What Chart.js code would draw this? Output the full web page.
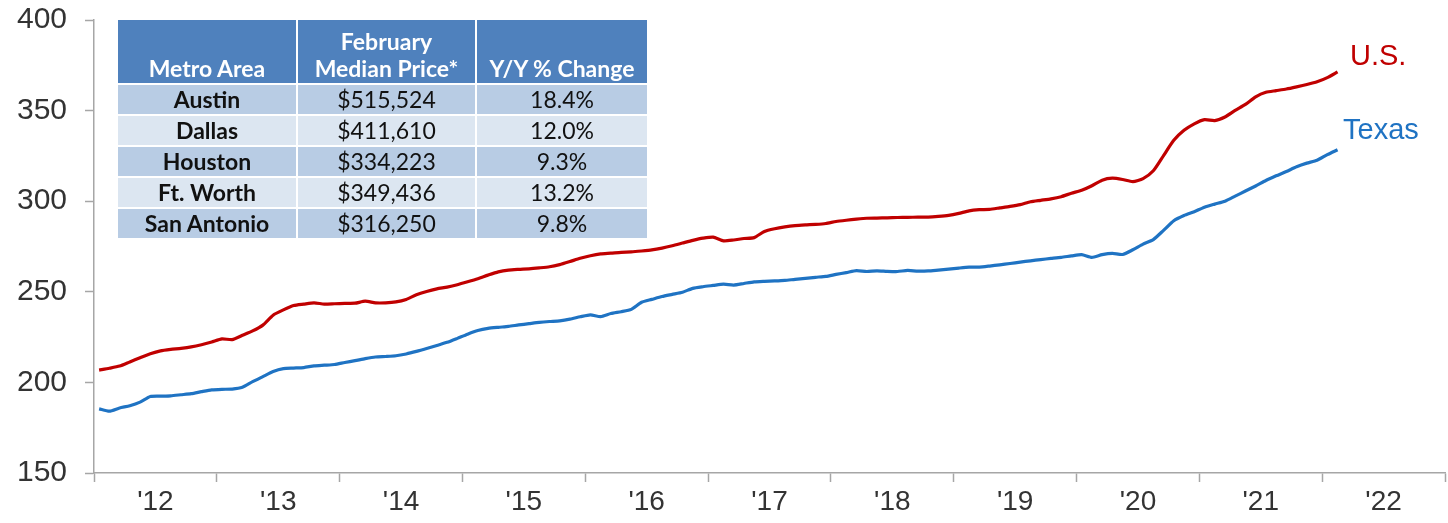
<!DOCTYPE html>
<html>
<head>
<meta charset="utf-8">
<script src="https://cdn.jsdelivr.net/npm/chart.js@4.4.1/dist/chart.umd.min.js"></script>
<style>
  body { margin: 0; background: #fff; }
  .wrap { position: relative; width: 1448px; height: 523px; }
  canvas { position: absolute; left: 0; top: 0; }

  /* metro price table overlay */
  .metro-table {
    position: absolute; left: 116px; top: 18px; width: 533px;
    border-collapse: collapse; font-family: Lato, "Open Sans", sans-serif;
  }
  .metro-table th, .metro-table td { border: 2px solid #fff; text-align: center; padding: 0; }
  .metro-table th {
    background: #4f81bd; color: #fff; font-weight: bold; font-size: 23px;
    line-height: 27px; height: 62px; vertical-align: bottom; padding-bottom: 1px;
  }
  .metro-table td { font-size: 23px; height: 29px; line-height: 29px; color: #111; }
  .metro-table tbody tr:nth-child(even) td { background: #b8cce4; }
  .metro-table tbody tr:nth-child(odd) td { background: #dce6f1; }
  .metro-table td.city { font-weight: bold; }

  .series-label { position: absolute; font-family: "Liberation Sans", Arial, sans-serif; font-size: 29px; }
</style>
</head>
<body>
<div class="wrap">
  <canvas id="priceChart" width="1448" height="523"></canvas>
  <table class="metro-table" id="metroTable"></table>
  <div class="series-label" id="usLabel" style="left:1350px; top:39px; color:#c00000;">U.S.</div>
  <div class="series-label" id="txLabel" style="left:1343px; top:113px; color:#1f73c3;">Texas</div>
</div>

<script>
// Median home price index, monthly Jan 2012 - Feb 2022
const usValues = [
  206.8, 207.8, 209.0, 211.3, 213.6, 215.8, 217.4, 218.2, 218.8, 219.6, 220.8, 222.3,
  224.0, 223.6, 226.0, 228.4, 231.6, 237.1, 240.0, 242.4, 243.2, 243.9, 243.2, 243.4,
  243.6, 243.7, 244.8, 243.9, 243.9, 244.4, 245.8, 248.4, 250.2, 251.6, 252.6, 253.9,
  255.5, 257.2, 259.2, 261.0, 262.0, 262.4, 262.7, 263.2, 263.8, 265.0, 266.7, 268.5,
  269.9, 270.9, 271.3, 271.8, 272.0, 272.5, 273.1, 274.1, 275.4, 276.9, 278.4, 279.6,
  280.2, 278.1, 278.6, 279.4, 279.9, 283.3, 284.8, 285.8, 286.5, 286.9, 287.2, 287.7,
  288.8, 289.5, 290.1, 290.6, 290.7, 290.8, 291.0, 291.1, 291.2, 291.2, 291.6, 292.2,
  293.3, 294.7, 295.3, 295.5, 296.3, 297.1, 298.1, 299.7, 300.5, 301.3, 302.5, 304.4,
  306.0, 308.5, 311.6, 312.7, 312.0, 310.8, 312.5, 316.8, 325.2, 333.6, 339.1, 342.7,
  345.0, 344.5, 346.5, 350.1, 353.4, 357.6, 360.1, 361.0, 361.9, 363.1, 364.4, 365.9,
  368.2, 371.4
];

const texasValues = [
  185.4, 184.1, 185.9, 187.1, 189.1, 192.2, 192.4, 192.6, 193.2, 193.8, 194.9, 195.9,
  196.2, 196.3, 197.3, 200.4, 203.2, 206.0, 207.6, 207.9, 208.2, 209.1, 209.5, 209.9,
  211.0, 212.0, 213.1, 214.0, 214.3, 214.7, 215.7, 217.1, 218.7, 220.4, 222.1, 224.3,
  226.6, 228.6, 229.8, 230.4, 230.9, 231.7, 232.4, 233.1, 233.6, 234.0, 234.9, 236.2,
  237.3, 236.3, 238.0, 239.0, 240.3, 244.2, 245.8, 247.4, 248.6, 249.8, 251.9, 252.8,
  253.5, 254.2, 253.7, 254.6, 255.5, 255.8, 256.0, 256.3, 256.9, 257.4, 258.0, 258.5,
  259.6, 260.6, 261.7, 261.2, 261.6, 261.3, 261.2, 261.8, 261.4, 261.5, 262.0, 262.5,
  263.1, 263.6, 263.6, 264.2, 264.9, 265.6, 266.4, 267.1, 267.8, 268.4, 269.0, 269.8,
  270.5, 269.0, 270.5, 271.2, 270.6, 273.2, 276.3, 278.8, 283.9, 289.2, 292.1, 294.2,
  296.7, 298.4, 300.0, 302.8, 305.6, 308.4, 311.4, 314.0, 316.4, 319.0, 321.0, 322.6,
  325.7, 328.4
];

// x axis: one label per year, centred in its year
const yearLabels = ["'12", "'13", "'14", "'15", "'16", "'17", "'18", "'19", "'20", "'21", "'22"];
const yTicks = [150, 200, 250, 300, 350, 400];

// Table content
const metroAreas = ['Austin', 'Dallas', 'Houston', 'Ft. Worth', 'San Antonio'];
const medianPrices = ['$515,524', '$411,610', '$334,223', '$349,436', '$316,250'];
const yoyChanges = ['18.4%', '12.0%', '9.3%', '13.2%', '9.8%'];

const RED = '#c00000';
const BLUE = '#1f73c3';
const AXIS = '#a6a6a6';

// Build table (header row is tbody child 1, so Austin lands on an even row)
document.getElementById('metroTable').innerHTML = `
  <tr><th style="width:178px">Metro Area</th><th style="width:177px">February<br>Median Price*</th><th>Y/Y % Change</th></tr>
  ${metroAreas.map((m, i) => `<tr><td class="city">${m}</td><td>${medianPrices[i]}</td><td>${yoyChanges[i]}</td></tr>`).join('')}
`;

// Month index -> centre of that month on a linear scale (0 = start of 2012)
const toPoints = arr => arr.map((v, i) => ({ x: i + 0.5, y: v }));

const ctx = document.getElementById('priceChart').getContext('2d');
new Chart(ctx, {
  type: 'line',
  data: {
    datasets: [
      { label: 'U.S.', data: toPoints(usValues), borderColor: RED, borderWidth: 3.2, pointRadius: 0, tension: 0.2 },
      { label: 'Texas', data: toPoints(texasValues), borderColor: BLUE, borderWidth: 3.2, pointRadius: 0, tension: 0.2 }
    ]
  },
  options: {
    responsive: false,
    animation: false,
    layout: { padding: { top: 20, right: 3, left: 0, bottom: 0 } },
    plugins: { legend: { display: false }, tooltip: { enabled: false } },
    scales: {
      x: {
        type: 'linear',
        min: 0,
        max: yearLabels.length * 12,
        afterBuildTicks: scale => {
          const ticks = [];
          for (let v = 0; v <= yearLabels.length * 12; v += 6) ticks.push({ value: v });
          scale.ticks = ticks;
        },
        afterFit: scale => { scale.height = 50; scale.paddingLeft = 0; scale.paddingRight = 0; },
        grid: {
          drawOnChartArea: false,
          tickLength: 9,
          tickWidth: 1.5,
          tickColor: c => (c.tick && c.tick.value % 12 === 0) ? AXIS : 'rgba(0,0,0,0)'
        },
        border: { color: AXIS, width: 1.5 },
        ticks: {
          autoSkip: false,
          maxRotation: 0,
          padding: 3,
          color: '#333',
          font: { family: '"Liberation Sans", Arial', size: 28 },
          callback: v => (v % 12 === 6) ? yearLabels[(v - 6) / 12] : ''
        }
      },
      y: {
        min: 150,
        max: 400,
        afterBuildTicks: scale => { scale.ticks = yTicks.map(v => ({ value: v })); },
        afterFit: scale => { scale.width = 94; scale.paddingTop = 0; scale.paddingBottom = 0; },
        grid: { drawOnChartArea: false, tickLength: 9, tickWidth: 1.5, tickColor: AXIS },
        border: { color: AXIS, width: 1.5 },
        ticks: {
          padding: 18,
          color: '#333',
          font: { family: '"Liberation Sans", Arial', size: 30 }
        }
      }
    }
  }
});
</script>
</body>
</html>
